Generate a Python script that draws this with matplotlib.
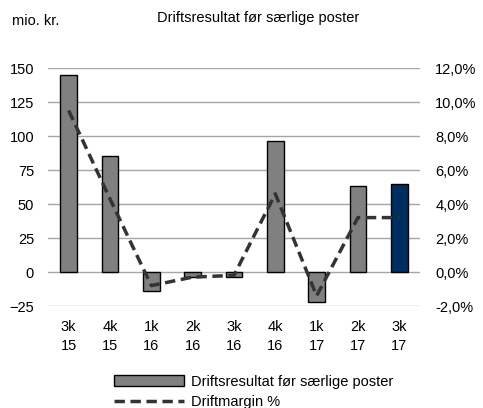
import matplotlib
matplotlib.use("Agg")
import matplotlib.pyplot as plt
from matplotlib.ticker import FuncFormatter

plt.rcParams['font.family'] = ['Liberation Sans', 'DejaVu Sans']

categories = ["3k\n15", "4k\n15", "1k\n16", "2k\n16", "3k\n16", "4k\n16", "1k\n17", "2k\n17", "3k\n17"]
resultat = [145, 85, -14, -4, -4, 96, -22, 63, 65]
margin = [9.5, 4.3, -0.8, -0.3, -0.2, 4.6, -1.4, 3.2, 3.2]
left_ticks = [-25, 0, 25, 50, 75, 100, 125, 150]
right_ticks = [-2, 0, 2, 4, 6, 8, 10, 12]

FS = 10.5

fig = plt.figure(figsize=(4.83, 4.08), dpi=100)
ax = fig.add_axes([0.0994, 0.25, 0.77, 0.5833])
x = list(range(len(categories)))
colors = ["#808080"] * (len(categories) - 1) + ["#002D62"]
bars = ax.bar(x, resultat, width=0.4, color=colors, edgecolor="black", linewidth=1.0, zorder=3,
              label="Driftsresultat før særlige poster")
ax.set_ylim(-25, 150)
ax.set_xlim(-0.5, len(categories) - 0.5)
ax.set_yticks(left_ticks)
ax.set_xticks(x)
ax.set_xticklabels(categories, linespacing=1.45)
ax.yaxis.grid(True, color="#a6a6a6", linewidth=1.0, zorder=0)
ax.set_axisbelow(True)
for s in ax.spines.values():
    s.set_visible(False)
ax.tick_params(axis="both", length=0, labelsize=FS, colors="black")
ax.tick_params(axis="y", pad=10)
ax.tick_params(axis="x", pad=10)

ax2 = ax.twinx()
line, = ax2.plot(x, margin, color="#333333", linestyle=(0, (3, 1.6)), linewidth=2.5, zorder=4,
                 label="Driftmargin %")
ax2.set_ylim(-2, 12)
ax2.set_yticks(right_ticks)
ax2.yaxis.set_major_formatter(FuncFormatter(lambda v, p: f"{v:.1f}%".replace(".", ",")))
for s in ax2.spines.values():
    s.set_visible(False)
ax2.tick_params(axis="y", length=0, labelsize=FS, pad=11)

fig.text(0.025, 0.948, "mio. kr.", fontsize=FS, va="center", ha="left")
fig.text(0.535, 0.956, "Driftsresultat før særlige poster", fontsize=FS, va="center", ha="center")

fig.legend(handles=[bars, line], labels=["Driftsresultat før særlige poster", "Driftmargin %"],
           loc="lower center", bbox_to_anchor=(0.525, -0.035), frameon=False, fontsize=FS,
           handlelength=4.8, labelspacing=0.45, handletextpad=0.5)

fig.savefig("out.png", dpi=100)
